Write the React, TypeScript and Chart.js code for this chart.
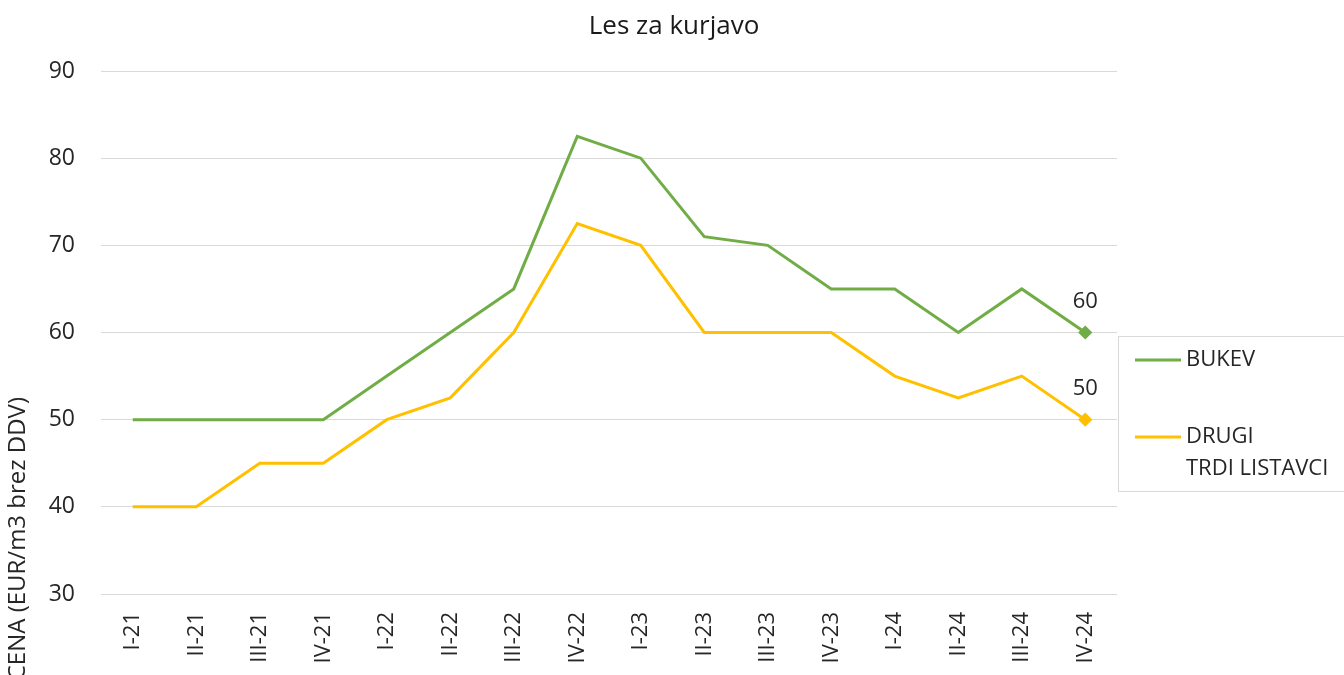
import React, { useEffect, useRef } from "react";
import { Chart, registerables } from "chart.js";

Chart.register(...registerables);

const chartTitle = "Les za kurjavo";
const yAxisTitle = "CENA (EUR/m3 brez DDV)";
const categories = ["I-21", "II-21", "III-21", "IV-21", "I-22", "II-22", "III-22", "IV-22", "I-23", "II-23", "III-23", "IV-23", "I-24", "II-24", "III-24", "IV-24"];
const bukev = [50, 50, 50, 50, 55, 60, 65, 82.5, 80, 71, 70, 65, 65, 60, 65, 60];
const drugi = [40, 40, 45, 45, 50, 52.5, 60, 72.5, 70, 60, 60, 60, 55, 52.5, 55, 50];
const seriesLabels = ["BUKEV", "DRUGI\nTRDI LISTAVCI"];
const seriesColors = ["#70AD47", "#FFC000"];
const yMin = 30;
const yMax = 90;
const yStep = 10;

const FONT = "'Open Sans', 'Liberation Sans', sans-serif";
const TEXT = "#262626";

const overlayPlugin = {
  id: "overlay",
  afterDraw(chart: any) {
    const ctx = chart.ctx;
    ctx.save();
    // title
    ctx.fillStyle = "#1a1a1a";
    ctx.font = `26px ${FONT}`;
    ctx.textAlign = "center";
    ctx.textBaseline = "middle";
    ctx.fillText(chartTitle, 674, 27);

    // y axis title
    ctx.save();
    ctx.translate(18, 397);
    ctx.rotate(-Math.PI / 2);
    ctx.font = `24px ${FONT}`;
    ctx.fillStyle = TEXT;
    ctx.textAlign = "right";
    ctx.textBaseline = "middle";
    ctx.fillText(yAxisTitle, 0, 0);
    ctx.restore();

    // data labels on last points
    ctx.font = `22px ${FONT}`;
    ctx.fillStyle = TEXT;
    ctx.textAlign = "center";
    ctx.textBaseline = "middle";
    chart.data.datasets.forEach((ds: any, i: number) => {
      const meta = chart.getDatasetMeta(i);
      const last = meta.data[meta.data.length - 1];
      ctx.fillText(String(ds.data[ds.data.length - 1]), last.x, last.y - 31);
    });

    // legend box
    ctx.strokeStyle = "#d9d9d9";
    ctx.lineWidth = 1;
    ctx.strokeRect(1118.5, 336.5, 240, 155);
    const rows = [360, 437];
    chart.data.datasets.forEach((ds: any, i: number) => {
      const y = rows[i];
      ctx.strokeStyle = ds.borderColor;
      ctx.lineWidth = 3;
      ctx.beginPath();
      ctx.moveTo(1135, y);
      ctx.lineTo(1181, y);
      ctx.stroke();
      ctx.fillStyle = TEXT;
      ctx.font = `22px ${FONT}`;
      ctx.textAlign = "left";
      ctx.textBaseline = "middle";
      String(ds.label).split("\n").forEach((line: string, k: number) => {
        ctx.fillText(line, 1186, y + k * 32);
      });
    });
    ctx.restore();
  },
};

export default function App() {
  const ref = useRef<HTMLCanvasElement>(null);
  useEffect(() => {
    if (!ref.current) return;
    const lastIdx = categories.length - 1;
    const radii = categories.map((_, i) => (i === lastIdx ? 5 : 0));
    const chart = new Chart(ref.current, {
      type: "line",
      data: {
        labels: categories,
        datasets: [
          {
            label: seriesLabels[0],
            data: bukev,
            borderColor: seriesColors[0],
            backgroundColor: seriesColors[0],
            borderWidth: 3,
            pointRadius: radii,
            pointStyle: "rectRot",
            tension: 0,
          },
          {
            label: seriesLabels[1],
            data: drugi,
            borderColor: seriesColors[1],
            backgroundColor: seriesColors[1],
            borderWidth: 3,
            pointRadius: radii,
            pointStyle: "rectRot",
            tension: 0,
          },
        ],
      },
      options: {
        animation: false,
        responsive: false,
        layout: { padding: { top: 71, left: 0, right: 227, bottom: 0 } },
        plugins: {
          legend: { display: false },
          title: { display: false },
          tooltip: { enabled: false },
        },
        scales: {
          x: {
            offset: true,
            grid: { display: false, drawTicks: false },
            border: { display: false },
            ticks: {
              maxRotation: 90,
              minRotation: 90,
              autoSkip: false,
              padding: 18,
              color: TEXT,
              font: { family: FONT, size: 22 },
            },
            afterFit: (s: any) => {
              s.height = 81;
            },
          },
          y: {
            min: yMin,
            max: yMax,
            grid: { color: "#d9d9d9", lineWidth: 1, drawTicks: false },
            border: { display: false },
            ticks: {
              stepSize: yStep,
              padding: 26,
              color: TEXT,
              font: { family: FONT, size: 23 },
            },
            afterFit: (s: any) => {
              s.width = 101;
            },
          },
        },
      },
      plugins: [overlayPlugin],
    });
    return () => chart.destroy();
  }, []);
  return (
    <div style={{ position: "fixed", left: 0, top: 0, width: 1344, height: 675, background: "#fff" }}>
      <canvas ref={ref} width={1344} height={675} style={{ display: "block" }} />
    </div>
  );
}
